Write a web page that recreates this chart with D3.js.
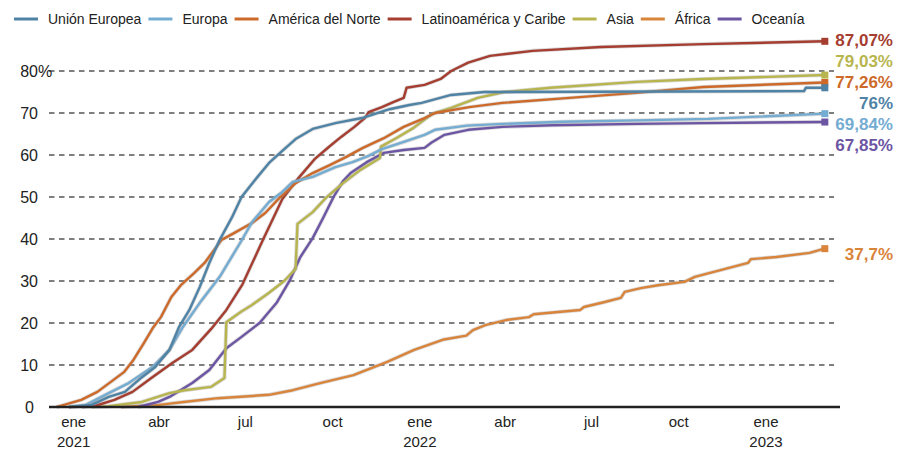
<!DOCTYPE html>
<html><head><meta charset="utf-8">
<script src="https://cdn.jsdelivr.net/npm/d3@7"></script>
<style>
body{margin:0;background:#fff;}
text{font-family:"Liberation Sans",Arial,sans-serif;}
</style></head>
<body><svg id="c" width="897" height="450"></svg>
<script>
// ---- data ----
const seriesNames = ["Unión Europea","Europa","América del Norte","Latinoamérica y Caribe","Asia","África","Oceanía"];
const seriesColors = ["#4f83a6","#74acd2","#cd6a2a","#a53d30","#b8b54f","#d9843b","#6c55a3"];
const endLabels = ["76%","69,84%","77,26%","87,07%","79,03%","37,7%","67,85%"];

const unionEuropea = [["2020-12-27",0],["2021-01-20",0.5],["2021-02-07",2.4],["2021-02-24",3.6],["2021-03-14",7.1],["2021-03-28",9.5],["2021-04-12",13.6],["2021-04-22",19.0],["2021-05-03",23.1],["2021-05-14",28.6],["2021-05-24",34.3],["2021-06-04",39.8],["2021-06-17",45.2],["2021-06-27",50.0],["2021-07-11",54.0],["2021-07-26",58.1],["2021-08-09",61.0],["2021-08-23",63.8],["2021-09-10",66.2],["2021-10-04",67.6],["2021-11-01",68.8],["2021-11-30",70.9],["2021-12-21",71.9],["2022-01-03",72.4],["2022-02-03",74.3],["2022-03-10",75.0],["2023-02-10",75.2],["2023-02-12",76.0],["2023-03-04",76.0]];

const europa = [["2020-12-27",0],["2021-01-14",0.5],["2021-02-07",3.3],["2021-02-28",5.7],["2021-03-25",9.5],["2021-04-12",13.6],["2021-04-26",19.0],["2021-05-14",24.8],["2021-06-04",31.0],["2021-06-28",40.0],["2021-07-08",44.0],["2021-07-26",48.8],["2021-08-09",51.2],["2021-08-20",53.6],["2021-09-10",54.8],["2021-10-04",57.1],["2021-10-22",58.3],["2021-11-08",59.8],["2021-11-22",61.4],["2021-12-15",63.1],["2022-01-06",64.8],["2022-01-17",66.0],["2022-02-20",67.0],["2022-03-29",67.4],["2022-06-01",67.9],["2022-09-01",68.3],["2022-11-01",68.6],["2023-03-04",69.84]];

const americaNorte = [["2020-12-14",0],["2020-12-22",0.5],["2021-01-09",1.7],["2021-01-26",3.6],["2021-02-23",8.3],["2021-03-05",11.2],["2021-03-16",15.2],["2021-03-26",19.0],["2021-04-03",21.4],["2021-04-14",26.2],["2021-04-24",29.0],["2021-05-08",31.9],["2021-05-19",34.3],["2021-06-06",39.8],["2021-06-19",41.4],["2021-07-08",43.8],["2021-07-22",46.2],["2021-08-06",49.8],["2021-08-23",53.3],["2021-09-10",55.7],["2021-09-28",57.6],["2021-10-15",59.5],["2021-11-02",61.7],["2021-11-24",64.0],["2021-12-15",66.7],["2022-01-06",68.8],["2022-01-17",70.0],["2022-02-22",71.4],["2022-03-29",72.4],["2022-06-08",73.6],["2022-08-17",74.8],["2022-10-27",76.2],["2023-03-04",77.26]];

const latinoamerica = [["2021-01-10",0],["2021-01-24",0.3],["2021-02-13",1.7],["2021-03-04",3.6],["2021-03-25",7.1],["2021-04-15",10.5],["2021-05-06",13.6],["2021-05-26",18.6],["2021-06-11",23.1],["2021-06-28",29.2],["2021-07-19",39.5],["2021-08-09",49.5],["2021-08-26",54.5],["2021-09-12",59.0],["2021-09-27",61.9],["2021-10-10",64.3],["2021-10-24",66.7],["2021-11-04",68.8],["2021-11-08",70.2],["2021-11-22",71.4],["2021-12-04",72.6],["2021-12-15",73.6],["2021-12-18",76.0],["2022-01-06",76.7],["2022-01-23",78.1],["2022-02-03",80.0],["2022-02-21",82.0],["2022-03-16",83.6],["2022-04-30",84.8],["2022-07-11",85.7],["2022-10-27",86.4],["2023-03-04",87.07]];

const asia = [["2021-01-20",0],["2021-02-07",0.2],["2021-03-14",1.2],["2021-04-12",3.3],["2021-04-28",4.0],["2021-05-26",4.8],["2021-06-09",6.9],["2021-06-11",20.2],["2021-06-26",22.6],["2021-07-08",24.3],["2021-07-26",27.2],["2021-08-11",30.0],["2021-08-23",32.9],["2021-08-25",43.6],["2021-09-10",46.4],["2021-09-24",49.8],["2021-10-12",53.3],["2021-10-30",56.4],["2021-11-20",59.3],["2021-11-21",62.0],["2021-12-07",64.0],["2021-12-25",66.4],["2022-01-14",69.8],["2022-02-03",71.2],["2022-03-03",73.6],["2022-03-31",75.0],["2022-05-19",76.0],["2022-08-17",77.4],["2022-10-27",78.1],["2023-03-04",79.03]];

const africa = [["2021-02-20",0],["2021-04-01",0.5],["2021-04-27",1.2],["2021-06-02",2.1],["2021-07-26",2.9],["2021-08-20",4.0],["2021-09-18",5.7],["2021-10-23",7.6],["2021-11-27",10.7],["2021-12-26",13.6],["2022-01-25",16.0],["2022-02-19",17.0],["2022-02-26",18.3],["2022-03-11",19.5],["2022-04-02",20.7],["2022-04-26",21.4],["2022-05-01",22.1],["2022-06-19",23.1],["2022-06-23",23.8],["2022-07-15",25.0],["2022-08-01",26.0],["2022-08-05",27.4],["2022-08-22",28.3],["2022-09-09",29.0],["2022-10-07",29.8],["2022-10-18",31.0],["2022-11-14",32.6],["2022-12-13",34.3],["2022-12-16",35.2],["2023-01-12",35.7],["2023-02-16",36.7],["2023-02-27",37.4],["2023-03-04",37.7]];

const oceania = [["2021-03-10",0],["2021-03-31",1.2],["2021-04-12",2.4],["2021-05-06",5.7],["2021-05-24",8.8],["2021-06-11",14.0],["2021-06-27",16.7],["2021-07-16",20.0],["2021-08-03",24.8],["2021-08-17",30.2],["2021-08-28",35.7],["2021-09-10",40.2],["2021-09-21",45.0],["2021-10-02",50.0],["2021-10-12",53.8],["2021-10-20",55.7],["2021-11-06",58.3],["2021-11-24",60.5],["2021-12-15",61.2],["2022-01-06",61.7],["2022-01-13",62.9],["2022-01-27",64.8],["2022-02-21",66.0],["2022-03-29",66.7],["2022-05-20",67.1],["2022-08-17",67.4],["2022-10-27",67.6],["2023-03-04",67.85]];

const yTicks = [0,10,20,30,40,50,60,70,80];
const xTickDates = ["2021-01-01","2021-04-01","2021-07-01","2021-10-01","2022-01-01","2022-04-01","2022-07-01","2022-10-01","2023-01-01"];
const xTickLabels = [["ene","2021"],["abr"],["jul"],["oct"],["ene","2022"],["abr"],["jul"],["oct"],["ene","2023"]];
const xDomain = ["2020-12-06","2023-03-20"];

// ---- chart ----
const parse = d3.timeParse("%Y-%m-%d");
const allSeries = [unionEuropea, europa, americaNorte, latinoamerica, asia, africa, oceania];
const series = seriesNames.map((name,i)=>({name, color:seriesColors[i], label:endLabels[i],
  values: allSeries[i].map(d=>({date:parse(d[0]), v:d[1]}))}));

const svg = d3.select("#c");
const x = d3.scaleTime().domain(xDomain.map(parse)).range([49,840]);
const y = d3.scaleLinear().domain([0,80]).range([407,71]);

// grid
svg.append("g").selectAll("line").data(yTicks.filter(t=>t>0)).join("line")
  .attr("x1",49).attr("x2",834).attr("y1",d=>y(d)).attr("y2",d=>y(d))
  .attr("stroke","#555").attr("stroke-width",1.3).attr("stroke-dasharray","5.5,4.5");

// y labels
const yl = svg.append("g");
yTicks.forEach(t=>{
  yl.append("text").attr("x", t===0?34:38).attr("y",y(t)).attr("dy","0.36em")
    .attr("text-anchor","end").attr("font-size",16).attr("fill","#222").text(t);
  if(t===80) yl.append("text").attr("x",38).attr("y",y(t)).attr("dy","0.36em")
    .attr("font-size",16).attr("fill","#222").text("%");
});

// x labels
xTickDates.forEach((d,i)=>{
  const t = svg.append("text").attr("text-anchor","middle").attr("font-size",15).attr("fill","#222")
    .attr("x",x(parse(d))).attr("y",427);
  xTickLabels[i].forEach((s,j)=>t.append("tspan").attr("x",x(parse(d))).attr("dy",j===0?0:20).text(s));
});

// lines
const line = d3.line().x(d=>x(d.date)).y(d=>y(d.v));
const drawOrder = [5,6,4,3,2,1,0];
const lg = svg.append("g");
drawOrder.forEach(i=>{
  const s = series[i];
  lg.append("path").attr("d",line(s.values)).attr("fill","none").attr("stroke","#999")
    .attr("stroke-opacity",0.35).attr("stroke-width",4).attr("stroke-linejoin","round");
  lg.append("path").attr("d",line(s.values)).attr("fill","none").attr("stroke",s.color)
    .attr("stroke-width",2.4).attr("stroke-linejoin","round");
  const last = s.values[s.values.length-1];
  lg.append("rect").attr("x",x(last.date)-3.5).attr("y",y(last.v)-3.5).attr("width",7).attr("height",7)
    .attr("fill",s.color);
});

// baseline
svg.append("line").attr("x1",49).attr("x2",840).attr("y1",y(0)).attr("y2",y(0))
  .attr("stroke","#222").attr("stroke-width",2.5);

// end labels with simple dodge
const labs = series.map(s=>({s, target:y(s.values[s.values.length-1].v)}));
labs.sort((a,b)=>a.target-b.target);
labs.forEach(l=>l.pos=l.target);
const gap = 21;
for(let it=0; it<300; it++){
  for(let k=1;k<labs.length;k++){
    const d = labs[k].pos - labs[k-1].pos;
    if(d<gap){ const m=(gap-d)/2; labs[k].pos+=m; labs[k-1].pos-=m; }
  }
}
labs.forEach(l=>{
  svg.append("text").attr("x",893).attr("y",l.pos+5).attr("dy","0.35em").attr("text-anchor","end")
    .attr("font-size",17).attr("font-weight","bold").attr("fill",l.s.color).text(l.s.label);
});

// legend
const leg = svg.append("g");
let lx = 14;
series.forEach(s=>{
  leg.append("line").attr("x1",lx).attr("x2",lx+24).attr("y1",19).attr("y2",19)
    .attr("stroke",s.color).attr("stroke-width",3);
  const t = leg.append("text").attr("x",lx+34).attr("y",19).attr("dy","0.36em")
    .attr("font-size",14).attr("fill","#222").text(s.name);
  lx = lx + 34 + t.node().getComputedTextLength() + 7;
});
</script></body></html>
